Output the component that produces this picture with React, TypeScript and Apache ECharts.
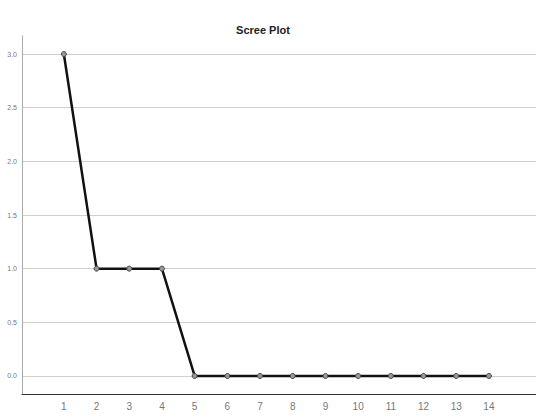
import React, { useEffect, useRef } from "react";
import * as echarts from "echarts";

const components = [1, 2, 3, 4, 5, 6, 7, 8, 9, 10, 11, 12, 13, 14];
const eigenvalues = [3.0, 1.0, 1.0, 1.0, 0, 0, 0, 0, 0, 0, 0, 0, 0, 0];
const yTicks = [0, 0.5, 1.0, 1.5, 2.0, 2.5, 3.0];

const FONT = "'Liberation Sans Narrow', 'Liberation Sans', Arial, sans-serif";

export default function App() {
  const ref = useRef<HTMLDivElement>(null);
  useEffect(() => {
    if (!ref.current) return;
    const chart = echarts.init(ref.current, undefined, { renderer: "svg" });
    chart.setOption({
      animation: false,
      backgroundColor: "#ffffff",
      title: {
        text: "Scree Plot",
        left: 258,
        top: 19,
        textAlign: "center",
        textStyle: {
          fontFamily: FONT,
          fontSize: 11,
          fontWeight: "bold",
          color: "#222",
        },
      },
      grid: { left: 22, right: 0, top: 36, bottom: 23, containLabel: false },
      xAxis: {
        type: "value",
        min: -0.28,
        max: 15.44,
        splitLine: { show: false },
        axisTick: { show: false },
        axisLine: { show: true, onZero: false, lineStyle: { color: "#333", width: 1 } },
        axisLabel: {
          customValues: components,
          formatter: (v: number) => String(v),
          color: "#777",
          fontSize: 10,
          margin: 7,
          fontFamily: FONT,
        },
      },
      yAxis: {
        type: "value",
        min: -0.168,
        max: 3.168,
        axisLine: { show: true, onZero: false, lineStyle: { color: "#aaa", width: 1 } },
        axisTick: { show: false, customValues: yTicks },
        splitLine: { show: true, lineStyle: { color: "#cfcfcf", width: 1 } },
        axisLabel: {
          customValues: yTicks,
          formatter: (v: number) => v.toFixed(1),
          color: "#777",
          fontSize: 7,
          margin: 5,
          fontFamily: FONT,
        },
      },
      series: [
        {
          type: "line",
          data: components.map((c, i) => [c, eigenvalues[i]]),
          lineStyle: { color: "#111", width: 2.5 },
          symbol: "circle",
          symbolSize: 5,
          itemStyle: { color: "#999", borderColor: "#444", borderWidth: 1 },
        },
      ],
    });
    return () => chart.dispose();
  }, []);
  return (
    <div
      ref={ref}
      style={{ position: "fixed", left: 0, top: 0, width: 536, height: 417 }}
    />
  );
}
